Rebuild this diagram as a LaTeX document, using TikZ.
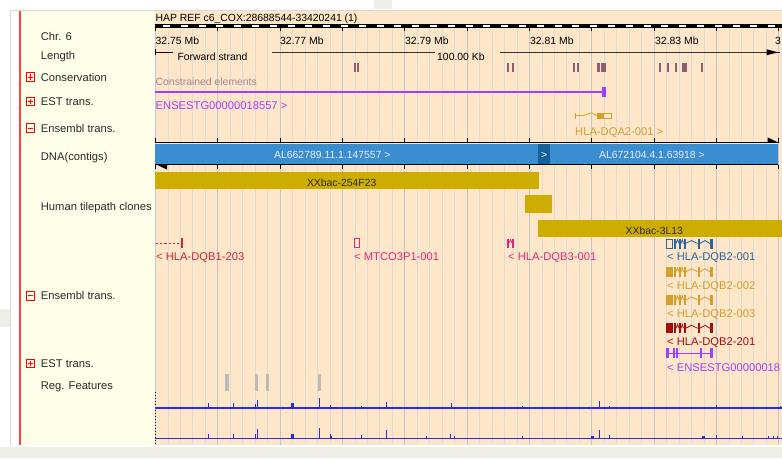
\documentclass[tikz,border=0pt]{standalone}
\usepackage{fontspec}
\setmainfont{Liberation Sans}
\definecolor{peach}{HTML}{FEE6C8}
\definecolor{cream}{HTML}{FFFEE8}
\definecolor{gridminor}{HTML}{E0DAD5}
\definecolor{gridmajor}{HTML}{C4C8CE}
\definecolor{dnablue}{HTML}{3A8ED0}
\definecolor{dnadark}{HTML}{15609E}
\definecolor{clone}{HTML}{CDAD00}
\definecolor{cons}{HTML}{8E5F73}
\definecolor{constxt}{HTML}{A68696}
\definecolor{estpurple}{HTML}{A040FF}
\definecolor{goldtr}{HTML}{D4A02C}
\definecolor{dqbone}{HTML}{C8283C}
\definecolor{pinktr}{HTML}{E0287A}
\definecolor{bluetr}{HTML}{2F64A0}
\definecolor{darkredtr}{HTML}{A01010}
\definecolor{regfeat}{HTML}{BBBBBB}
\definecolor{trackblue}{HTML}{2828F0}
\definecolor{labtext}{HTML}{2A2A2A}
\definecolor{framegray}{HTML}{D9D9D6}
\definecolor{shadegray}{HTML}{EFEEE9}
\newcommand\dqbrow[3]{%
  \begin{scope}[#2]
    \ifnum#3=1
      \draw[line width=0.9pt,fill=peach] (666.5,{#1+0.5}) rectangle (672.5,{#1+9.5});
    \else
      \fill (666,{#1}) rectangle (672.5,{#1+10});
    \fi
    \fill (674,{#1}) rectangle (676,{#1+10});
    \fill (679,{#1}) rectangle (681,{#1+10});
    \fill (683.5,{#1}) rectangle (685.5,{#1+10});
    \fill (697.5,{#1}) rectangle (699.8,{#1+10});
    \fill (710,{#1}) rectangle (712.5,{#1+10});
    \draw[line width=0.8pt] (676,{#1+5}) -- (677.5,{#1+1}) -- (679,{#1+5});
    \draw[line width=0.8pt] (681,{#1+5}) -- (682.2,{#1+1}) -- (683.5,{#1+5});
    \draw[line width=0.8pt] (685.5,{#1+5}) -- (691.5,{#1+2}) -- (697.5,{#1+5});
    \draw[line width=0.8pt] (699.8,{#1+5}) -- (705,{#1+2}) -- (710,{#1+5});
  \end{scope}}
\newcommand\plusbox[1]{%
  \draw[red,line width=0.7pt] (26.3,{#1-4.2}) rectangle (34.7,{#1+4.2});
  \draw[red,line width=0.9pt] (27.8,{#1}) -- (33.2,{#1}) (30.5,{#1-2.7}) -- (30.5,{#1+2.7});}
\newcommand\minusbox[1]{%
  \draw[red,line width=0.7pt] (26.3,{#1-4.2}) rectangle (34.7,{#1+4.2});
  \draw[red,line width=0.9pt] (27.8,{#1}) -- (33.2,{#1});}
\begin{document}
\begin{tikzpicture}[x=1pt,y=-1pt,
  lab/.style={anchor=base west,inner sep=0pt,text=labtext,font=\fontsize{11.2}{13}\selectfont},
  dat/.style={anchor=base west,inner sep=0pt,font=\fontsize{10.4}{12}\selectfont},
  gene/.style={anchor=base west,inner sep=0pt,font=\fontsize{11.2}{13}\selectfont},
  clonebar/.style={fill=clone,draw=none}]
\useasboundingbox (0,0) rectangle (782,458);
% ---------- frame and backgrounds ----------
\fill[white] (0,0) rectangle (782,458);
\fill[shadegray] (0,447) rectangle (782,458);
\fill[shadegray] (0,309) rectangle (10,327);
\fill[shadegray] (374,0) rectangle (391.7,8.5);
\fill[framegray] (10,9.5) rectangle (782,11);
\fill[framegray] (10,9.5) rectangle (11,446);
\fill[cream] (20.7,11) rectangle (155,445);
\fill[peach] (155,11) rectangle (782,445);
\fill[red!75!white] (19,11) rectangle (20.7,445);
% ---------- left labels ----------
\node[lab] (lchr) at (40.7,40.5) {Chr. 6};
\node[lab] (llen) at (40.7,59) {Length};
\plusbox{77}
\node[lab] (lcons) at (40.7,81) {Conservation};
\plusbox{101.5}
\node[lab] (lest) at (40.7,105.5) {EST trans.};
\minusbox{128}
\node[lab] (lens) at (40.7,132) {Ensembl trans.};
\node[lab] (ldna) at (40.7,160.3) {DNA(contigs)};
\node[lab] (lclone) at (40.7,210.3) {Human tilepath clones};
\minusbox{295.8}
\node[lab] (lens2) at (40.7,299.7) {Ensembl trans.};
\plusbox{363.5}
\node[lab] (lest2) at (40.7,367.5) {EST trans.};
\node[lab] (lreg) at (40.7,389.5) {Reg. Features};
% ---------- data area ----------
\begin{scope}
\clip (155,11) rectangle (782,445);
% grid
\foreach \i in {0,...,50} \draw[gridminor,line width=0.9pt] ({155.5+\i*12.4667},28.5) -- ({155.5+\i*12.4667},445);
\foreach \i in {0,...,10} \draw[gridmajor,line width=1pt] ({155.5+\i*62.333},28.5) -- ({155.5+\i*62.333},445);
% header and ruler
\node[dat] (hdr) at (155.5,21.7) {HAP REF c6\_COX:28688544-33420241 (1)};
\fill[black] (155,24) rectangle (782,28.3);
\foreach \i in {0,...,35} \fill[white] ({163+\i*17.8},25.3) rectangle +(7,1.7);
\foreach \i in {0,...,10} \draw[black,line width=0.8pt] ({155.5+\i*62.333},28) -- ({155.5+\i*62.333},31);
\node[dat] (mb75) at (155.5,44.3) {32.75 Mb};
\node[dat] (mb77) at (280,44.3) {32.77 Mb};
\node[dat] (mb79) at (405,44.3) {32.79 Mb};
\node[dat] (mb81) at (530,44.3) {32.81 Mb};
\node[dat] (mb83) at (655,44.3) {32.83 Mb};
\node[dat] (mb85) at (775,44.3) {3};
% forward strand / length
\draw[black,line width=0.8pt] (155.5,49.3) -- (155.5,55.3);
\draw[black,line width=0.8pt] (155.5,52.3) -- (173.3,52.3);
\node[dat] (fwd) at (177.3,60) {Forward strand};
\draw[black!80,line width=0.8pt] (272,52.3) -- (435,52.3);
\node[dat] (len) at (437,60) {100.00 Kb};
\draw[black!80,line width=0.8pt] (500,52.3) -- (770,52.3);
\fill[black] (766.5,49.3) -- (778,52.3) -- (766.5,55.3) -- cycle;
\draw[black,line width=0.8pt] (776,52.3) -- (780,52.3);
% conservation
\foreach \a/\b in {354/356,357/359,507.3/509.3,511.7/514,573.3/575.3,576.7/579,596.7/599.7,601/606,659/661,666.7/669,675/677.3,681.7/687.3,700.7/703}
  \fill[cons] (\a,62.7) rectangle (\b,71.7);
\node[dat,text=constxt] (constr) at (155.5,85) {Constrained elements};
% EST (forward)
\fill[estpurple] (155,90.9) rectangle (602,92.6);
\fill[estpurple] (601.7,87.3) rectangle (606,97.3);
\node[gene,text=estpurple] (estf) at (155.5,109.8) {ENSESTG00000018557 >};
% HLA-DQA2-001 (forward)
\begin{scope}[goldtr]
\draw[line width=0.9pt] (575,112.7) -- (575,119.3);
\draw[line width=0.8pt] (575,115.5) -- (583,115.5) -- (591.5,112.8) -- (597,115.5);
\fill (597,112.7) rectangle (603.3,119.3);
\draw[line width=0.9pt] (603.3,113.1) rectangle (611.3,118.9);
\end{scope}
\node[gene,text=goldtr] (dqa2) at (575,135.5) {HLA-DQA2-001 >};
% DNA contigs
\draw[black,line width=0.9pt] (155,142.6) -- (778,142.6);
\foreach \i in {0,...,10} \draw[black,line width=0.8pt] ({155.5+\i*62.333},137.5) -- ({155.5+\i*62.333},142.6);
\fill[black] (767.5,137.3) -- (778.5,142.6) -- (767.5,142.6) -- cycle;
\fill[dnablue] (155,143.5) rectangle (778,164);
\fill[dnadark] (538.3,143.5) rectangle (550,164);
\node[dat,text=white,anchor=base] (ctgsep) at (544.2,158.8) {>};
\node[dat,text=white!92!blue] (ctg1) at (274,158.8) {AL662789.11.1.147557 >};
\node[dat,text=white!92!blue] (ctg2) at (599,158.8) {AL672104.4.1.63918 >};
\draw[black,line width=0.9pt] (155,164.6) -- (778,164.6);
\foreach \i in {0,...,10} \draw[black,line width=0.8pt] ({155.5+\i*62.333},164.6) -- ({155.5+\i*62.333},169);
\fill[black] (156.5,164.6) -- (167,164.6) -- (167,169.5) -- cycle;
% tilepath clones
\fill[clonebar] (155,172.3) rectangle (539,189);
\node[dat,text=labtext,anchor=base] (cl1) at (341.7,186) {XXbac-254F23};
\fill[clonebar] (525,195) rectangle (551.7,212.7);
\fill[clonebar] (538.3,220) rectangle (782,237.3);
\node[dat,text=labtext,anchor=base] (cl2) at (654.3,234) {XXbac-3L13};
% reverse strand transcripts
\foreach \i in {0,...,5} \fill[dqbone] ({156+\i*4.2},242.5) rectangle +(2.2,1.4);
\fill[dqbone] (181.1,238.3) rectangle (182.5,247.6);
\node[gene,text=dqbone] (dqb1) at (156,260.5) {< HLA-DQB1-203};
\draw[pinktr,line width=0.9pt] (354.6,238.7) rectangle (359.6,247.3);
\node[gene,text=pinktr] (mtco) at (354,260.5) {< MTCO3P1-001};
\begin{scope}[pinktr]
\fill (507,238.5) rectangle (509,248);
\fill (512,238.5) rectangle (514,248);
\draw[line width=0.8pt] (509,243) -- (510.5,239.5) -- (512,243);
\end{scope}
\node[gene,text=pinktr] (dqb3) at (508,260.5) {< HLA-DQB3-001};
\dqbrow{238.5}{bluetr}{1}
\node[gene,text=bluetr] (dqb2a) at (667,260.5) {< HLA-DQB2-001};
\dqbrow{266.8}{goldtr}{0}
\node[gene,text=goldtr] (dqb2b) at (667,289) {< HLA-DQB2-002};
\dqbrow{295}{goldtr}{0}
\node[gene,text=goldtr] (dqb2c) at (667,317.2) {< HLA-DQB2-003};
\dqbrow{323.3}{darkredtr}{0}
\node[gene,text=darkredtr] (dqb2d) at (667,345.6) {< HLA-DQB2-201};
\begin{scope}[estpurple]
\fill (666,352.6) rectangle (712.5,354);
\foreach \a/\b in {666/668.5,672.5/674.5,676/678,699.5/701.5,710/712.5}
  \fill (\a,348.3) rectangle (\b,358.3);
\end{scope}
\node[gene,text=estpurple] (estr) at (667,371.6) {< ENSESTG00000018};
% regulatory features
\foreach \a/\b in {225/229.3,255.3/257.7,266/268.7,318.3/321}
  \fill[regfeat] (\a,374) rectangle (\b,390.7);
% signal tracks
\draw[black,line width=0.9pt,dash pattern=on 1.5pt off 1.5pt] (155.5,391.7) -- (155.5,445);
\draw[trackblue,line width=1.3pt] (155,408) -- (782,408);
\draw[trackblue,line width=1.3pt] (155,438.3) -- (782,438.3);
\foreach \x/\h in {208/4.7,233/4.7,255/4,257/8.3,319/9.7,330/3.3,361/2.3,386/6.3,451/4.7,522/2.3,599.3/7.3,609/2.3,716/3.3,780/2.3}
  \draw[trackblue,line width=1pt] (\x,408) -- (\x,{408-\h});
\fill[trackblue] (290.5,408) rectangle (293.8,403.3);
\foreach \x/\h in {208/4.7,233/4.7,255/4,257/9,319/10.3,330/4.7,331.8/2.3,361/3.3,386/8,426/2,450/4.3,454.3/2.3,522.3/2.3,599.3/8,609/3.3,716/3.3,742.7/2.3,768.3/2.3,773.3/2.3,777.7/2.3}
  \draw[trackblue,line width=1pt] (\x,438.3) -- (\x,{438.3-\h});
\fill[trackblue] (290.5,438.3) rectangle (293.8,433.6);
\fill[trackblue] (591,438.3) rectangle (594.3,436);
\fill[trackblue] (701.7,438.3) rectangle (705,436);
\end{scope}
\end{tikzpicture}
\end{document}
